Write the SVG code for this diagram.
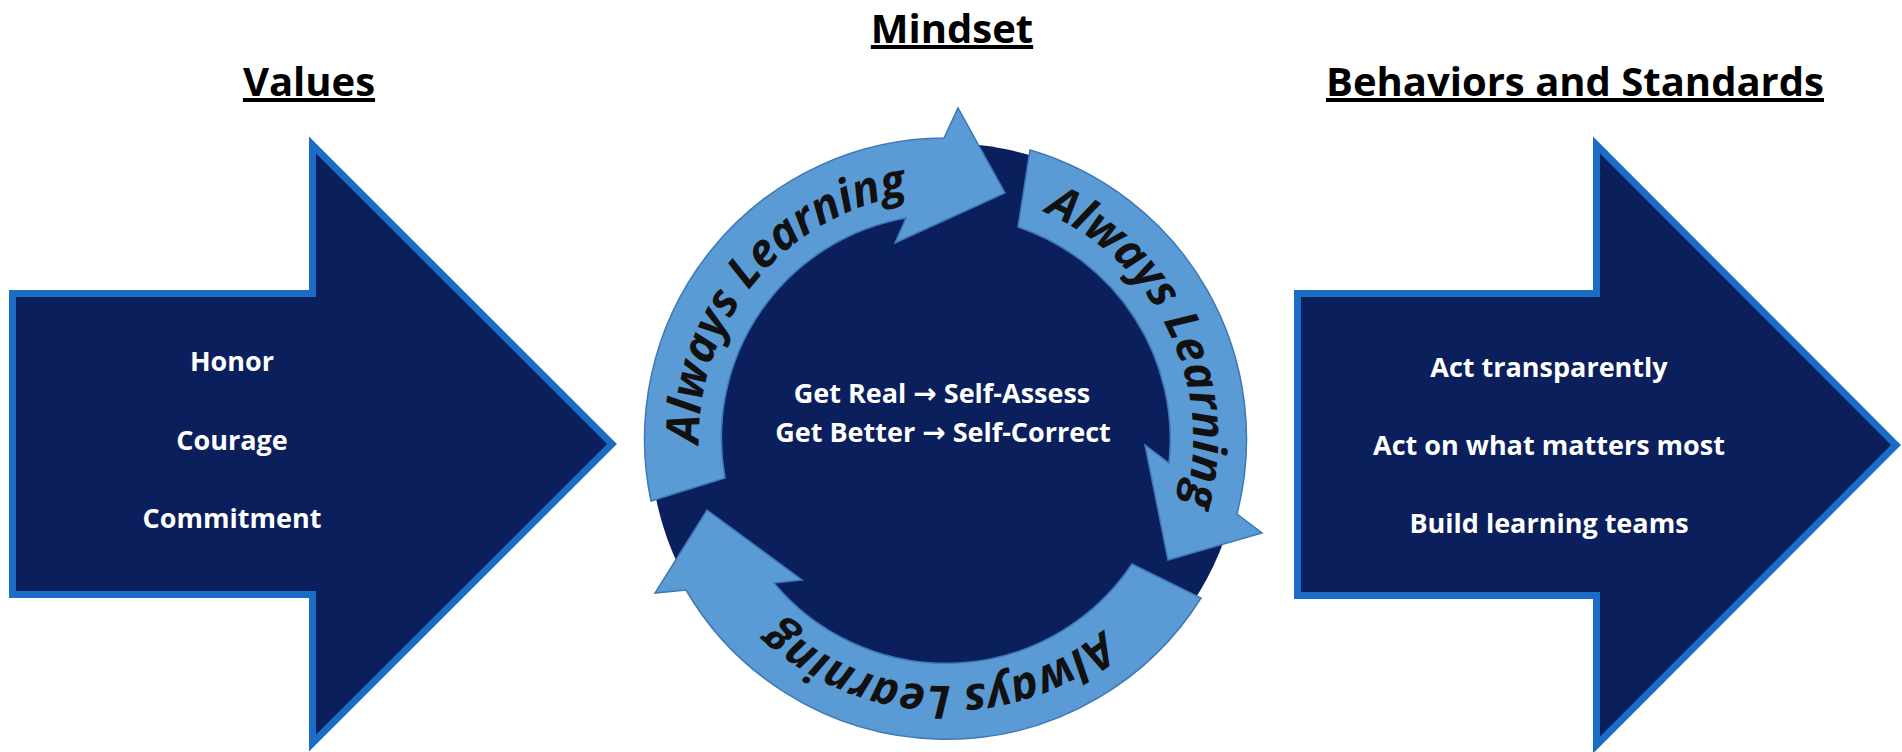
<svg xmlns="http://www.w3.org/2000/svg" width="1902" height="752" viewBox="0 0 1902 752">
<style>
.title{font-family:"Open Sans","Liberation Sans",sans-serif;font-weight:700;font-size:40px;fill:#000;text-anchor:middle;text-decoration:underline;}
.big{fill:#0b1f5c;stroke:#1b6cc4;stroke-width:7;stroke-linejoin:miter;stroke-miterlimit:10;}
.lbl{font-family:"Open Sans","Liberation Sans",sans-serif;font-weight:700;font-size:27px;fill:#fff;text-anchor:middle;}
.ar{font-family:"DejaVu Sans",sans-serif;font-weight:700;font-size:28px;}
.disk{fill:#0b1f5c;}
.ring{fill:#5b9bd5;stroke:#3d78b8;stroke-width:1.5;stroke-linejoin:miter;}
.arc{font-family:"Open Sans","Liberation Sans",sans-serif;font-weight:700;font-style:italic;font-size:46px;fill:#111;text-anchor:middle;}
</style>
<defs>
<path id="tp1" d="M 732.1,562.5 A 247 247 0 0 1 1030.5,206.9"/>
<path id="tp2" d="M 922.3,193.1 A 247 247 0 0 1 1122.2,612.1"/>
<path id="tp3" d="M 1175,531.5 A 247 247 0 0 1 711.1,515.3"/>
</defs>
<rect width="1902" height="752" fill="#fff"/>
<g id="values">
<text class="title" x="309" y="96">Values</text>
<polygon class="big" points="12.5,293.5 312.5,293.5 312.5,145 612,444 312.5,743 312.5,594.5 12.5,594.5"/>
<text class="lbl" x="232" y="371">Honor</text>
<text class="lbl" x="232" y="450">Courage</text>
<text class="lbl" x="232" y="528">Commitment</text>
</g>
<g id="mindset">
<text class="title" x="952" y="43">Mindset</text>
<circle class="disk" cx="946" cy="439" r="296"/>
<text class="lbl" x="942" y="403">Get Real <tspan class="ar">→</tspan> Self-Assess</text>
<text class="lbl" x="943" y="442">Get Better <tspan class="ar">→</tspan> Self-Correct</text>
</g>
<g id="connectors">
<path class="ring" d="M 651,501 A 301 301 0 0 1 944,138 L 958,108 L 1005,193 L 895,243 L 906,218 A 224 224 0 0 0 725,478 Z"/>
<path class="ring" d="M 1030,150 A 301 301 0 0 1 1237,514 L 1262,533 L 1168,560 L 1145,445 L 1169,463 A 224 224 0 0 0 1018,227 Z"/>
<path class="ring" d="M 1201,598 A 301 301 0 0 1 686,590 L 655,593 L 707,510 L 802,580 L 774,583 A 224 224 0 0 0 1132,564 Z"/>
<text class="arc"><textPath href="#tp1" startOffset="50%">Always Learning</textPath></text>
<text class="arc"><textPath href="#tp2" startOffset="50%">Always Learning</textPath></text>
<text class="arc"><textPath href="#tp3" startOffset="50%">Always Learning</textPath></text>
</g>
<g id="behaviors">
<text class="title" x="1575" y="96">Behaviors and Standards</text>
<polygon class="big" points="1297.5,293.5 1596.5,293.5 1596.5,145 1896,445 1596.5,745 1596.5,595.5 1297.5,595.5"/>
<text class="lbl" x="1549" y="377">Act transparently</text>
<text class="lbl" x="1549" y="455">Act on what matters most</text>
<text class="lbl" x="1549" y="533">Build learning teams</text>
</g>
</svg>
